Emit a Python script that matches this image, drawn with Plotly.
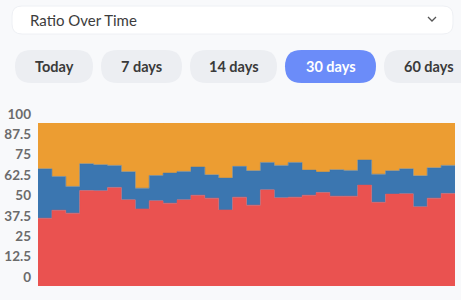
import plotly.graph_objects as go

# ---- data (percent shares per day, 30 days) ----
days = list(range(1, 31))
red_share = [41.6, 46.5, 44.7, 58.6, 58.4, 60.5, 52.9, 47.3, 52.3, 50.8,
             52.9, 55.7, 53.9, 46.7, 54.5, 49.6, 59.0, 54.1, 54.5, 55.7,
             57.4, 55.1, 55.1, 61.9, 51.4, 56.4, 56.6, 48.6, 53.9, 56.8]
blue_cum = [71.9, 67.2, 61.1, 75.0, 74.4, 74.0, 70.1, 60.0, 67.8, 69.3,
            70.3, 73.0, 68.2, 66.2, 73.4, 70.7, 75.8, 74.0, 75.8, 71.1,
            69.9, 71.3, 70.9, 77.3, 68.6, 70.7, 71.9, 67.6, 72.5, 74.0]
blue_share = [round(b - r, 1) for b, r in zip(blue_cum, red_share)]
orange_share = [round(100 - b, 1) for b in blue_cum]
tick_vals = [0, 12.5, 25, 37.5, 50, 62.5, 75, 87.5, 100]
tick_text = ["0", "12.5", "25", "37.5", "50", "62.5", "75", "87.5", "100"]
ranges = ["Today", "7 days", "14 days", "30 days", "60 days"]
title_text = "Ratio Over Time"

colors = {"red": "#ea5250", "blue": "#3b76b0", "orange": "#ec9d32"}

W, H = 461, 300
L, R, T, B = 38, 455, 123, 286

def px(x):
    return (x - L) / (R - L)

def py(y):
    return (B - y) / (B - T)

def rrect(x0, y0, x1, y1, r):
    def p(x, y):
        return f"{px(x):.5f},{py(y):.5f}"
    return (f"M{p(x0 + r, y0)} L{p(x1 - r, y0)} Q{p(x1, y0)} {p(x1, y0 + r)} "
            f"L{p(x1, y1 - r)} Q{p(x1, y1)} {p(x1 - r, y1)} L{p(x0 + r, y1)} "
            f"Q{p(x0, y1)} {p(x0, y1 - r)} L{p(x0, y0 + r)} Q{p(x0, y0)} {p(x0 + r, y0)} Z")

xs = [d - 1 for d in days] + [days[-1]]

fig = go.Figure()
for name, vals in [("red", red_share), ("blue", blue_share), ("orange", orange_share)]:
    fig.add_trace(go.Scatter(
        x=xs, y=vals + [vals[-1]], mode="lines", stackgroup="one",
        line=dict(shape="hv", width=0.5, color=colors[name]),
        fillcolor=colors[name], hoverinfo="skip", showlegend=False))

shapes = []
annotations = []
# dropdown
shapes.append(dict(type="path", xref="paper", yref="paper", path=rrect(12, 6, 453, 34, 10),
                   fillcolor="#ffffff", line=dict(color="#eef0f4", width=1), layer="above"))
annotations.append(dict(x=px(28), y=py(20), xref="paper", yref="paper", text=title_text,
                        showarrow=False, xanchor="left", yanchor="middle",
                        font=dict(family="Lato", size=15, color="#3c3c3c")))
# chevron
shapes.append(dict(type="path", xref="paper", yref="paper",
                   path=f"M{px(428):.5f},{py(17):.5f} L{px(432):.5f},{py(21):.5f} L{px(436):.5f},{py(17):.5f}",
                   line=dict(color="#555555", width=1.3), layer="above"))
# pills
pill_x = [(15, 93), (101, 182), (190, 277), (285, 376), (384, 480)]
for i, (lab, (x0, x1)) in enumerate(zip(ranges, pill_x)):
    active = lab == "30 days"
    shapes.append(dict(type="path", xref="paper", yref="paper", path=rrect(x0, 50, x1, 83, 16.5),
                       fillcolor="#6b8cf9" if active else "#eceef2", line=dict(width=0), layer="above"))
    cx = (x0 + x1) / 2 if i < 4 else 429
    annotations.append(dict(x=px(cx), y=py(66.5), xref="paper", yref="paper", text=lab,
                            showarrow=False, xanchor="center", yanchor="middle",
                            font=dict(family="Lato", size=14.5, weight=700,
                                      color="#ffffff" if active else "#3a3a3a")))

fig.update_layout(
    width=W, height=H,
    margin=dict(l=L, r=W - R, t=T, b=H - B),
    paper_bgcolor="#f8f9fb", plot_bgcolor="#f8f9fb",
    shapes=shapes, annotations=annotations,
    xaxis=dict(range=[0, 30], visible=False, fixedrange=True),
    yaxis=dict(range=[0, 100], tickvals=tick_vals, ticktext=tick_text, showgrid=False,
               zeroline=False, showline=False, ticks="", automargin=False,
               ticklabelshift=-9, ticklabelstandoff=6,
               tickfont=dict(family="Lato", size=13.5, weight=700, color="#6b6b6b")),
)
fig.write_html("out.html")
